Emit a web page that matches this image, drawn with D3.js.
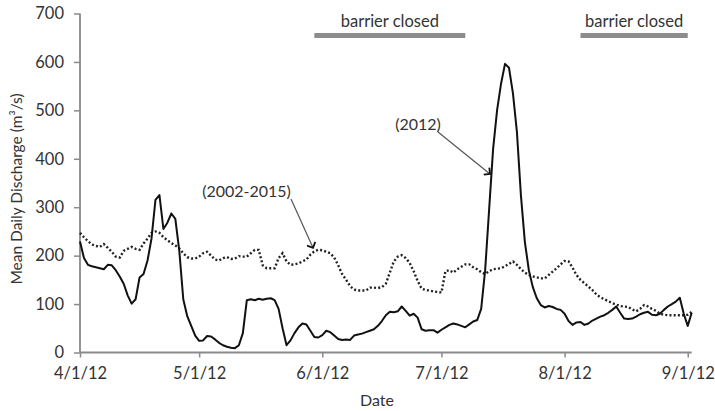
<!DOCTYPE html>
<html>
<head>
<meta charset="utf-8">
<script src="https://cdn.jsdelivr.net/npm/d3@7"></script>
<style>
  body { margin: 0; background: #fff; }
  text { font-family: Lato, "Open Sans", sans-serif; fill: #333; }
</style>
</head>
<body>
<svg id="chart" width="715" height="411"></svg>
<script>
// ---- data (daily, starting 4/1/2012) ----
const startDate = "2012-04-01";
const endDate = "2012-09-02";
const flow2012 = [
  229,195,181,178,176,174,172,181,180,170,
  157,142,118,101,110,155,162,190,235,315,
  325,255,268,287,276,210,110,75,55,35,
  24,25,34,33,27,20,15,12,10,9,
  15,40,108,110,108,111,109,111,112,108,
  90,50,15,25,40,52,60,58,45,32,
  31,36,45,42,35,28,26,27,26,35,
  37,39,42,45,48,55,65,77,84,83,
  85,95,86,76,80,72,48,45,46,46,
  41,47,52,57,60,58,55,52,58,64,
  67,90,170,295,420,500,555,596,588,535,
  455,325,228,170,135,112,98,93,96,94,
  90,88,80,65,57,62,63,57,60,66,
  70,74,77,82,88,95,82,70,69,70,
  74,79,82,84,78,77,80,88,95,100,
  105,113,80,55,82
];
const flowMean = [
  247,238,230,223,220,218,224,216,208,198,
  196,210,214,218,214,212,225,235,247,250,
  247,238,232,226,221,215,205,197,194,194,
  198,205,208,200,192,190,195,197,193,194,
  199,198,198,205,212,212,180,174,174,174,
  195,205,188,181,182,184,188,192,202,209,
  212,211,208,205,196,180,162,150,137,130,
  128,128,128,134,134,133,135,142,165,188,
  198,201,195,185,168,148,132,129,128,126,
  125,124,168,170,165,172,177,182,182,176,
  172,166,162,168,172,173,174,178,183,188,
  181,172,165,160,157,155,153,153,160,167,
  174,182,189,188,175,160,150,143,136,129,
  120,114,110,106,102,99,96,95,94,89,
  85,90,98,95,90,86,80,78,77,77,
  77,77,77,78,84
];
const yTicks = [0,100,200,300,400,500,600,700];
const xTickDates = ["2012-04-01","2012-05-01","2012-06-01","2012-07-01","2012-08-01","2012-09-01"];
const barrierPeriods = [["2012-05-30","2012-07-07"],["2012-08-05","2012-09-01"]];
const barrierLabel = "barrier closed";
const seriesLabels = ["(2002-2015)", "(2012)"];

// ---- layout ----
const svg = d3.select("#chart");
const W = 715, H = 411;
const margin = {left: 80, right: W - 691.7, top: 13.5, bottom: H - 352.5};
const parse = d3.timeParse("%Y-%m-%d");
const t0 = parse(startDate);

const x = d3.scaleTime().domain([t0, parse(endDate)]).range([margin.left, W - margin.right]);
const y = d3.scaleLinear().domain([0, 700]).range([H - margin.bottom, margin.top]);

const axisColor = "#8a8a8a";
const font = "Lato, 'Open Sans', sans-serif";

// axes
const xAxis = svg.append("g").attr("transform", `translate(0,${y(0)})`)
  .call(d3.axisBottom(x).tickValues(xTickDates.map(parse)).tickSize(5).tickPadding(10)
    .tickFormat(d3.timeFormat("%-m/%-d/%y")));
const yAxis = svg.append("g").attr("transform", `translate(${margin.left},0)`)
  .call(d3.axisLeft(y).tickValues(yTicks).tickSize(6).tickPadding(10));
[xAxis, yAxis].forEach(g => {
  g.select(".domain").attr("stroke", axisColor).attr("stroke-width", 1.8);
  g.selectAll(".tick line").attr("stroke", axisColor).attr("stroke-width", 1.5);
  g.selectAll(".tick text").attr("font-size", 16.5).attr("fill", "#333")
    .attr("font-family", font);
});
xAxis.select(".domain").attr("d", `M${x.range()[0]},0H${x.range()[1]}`);
yAxis.select(".domain").attr("d", `M0,${y.range()[0]}V${y.range()[1]}`);

// axis titles
svg.append("text").attr("x", 377).attr("y", 406).attr("text-anchor", "middle")
  .attr("font-size", 16).text("Date");
svg.append("text").attr("transform", `translate(22,${189}) rotate(-90)`)
  .attr("text-anchor", "middle").attr("font-size", 15.5).text("Mean Daily Discharge (m³/s)");

// lines
const dates = flow2012.map((_, i) => d3.timeDay.offset(t0, i));
const line = d3.line().x((d, i) => x(dates[i])).y(d => y(d));

svg.append("path").datum(flowMean).attr("d", line)
  .attr("fill", "none").attr("stroke", "#222").attr("stroke-width", 2.4)
  .attr("stroke-dasharray", "2,2.2");
svg.append("path").datum(flow2012).attr("d", line)
  .attr("fill", "none").attr("stroke", "#111").attr("stroke-width", 2)
  .attr("stroke-linejoin", "round");

// barrier bars
barrierPeriods.forEach(p => {
  const x0 = x(parse(p[0])), x1 = x(parse(p[1]));
  svg.append("rect").attr("x", x0).attr("y", 33).attr("width", x1 - x0).attr("height", 5)
    .attr("fill", "#8c8c8c");
  svg.append("text").attr("x", (x0 + x1) / 2).attr("y", 27).attr("text-anchor", "middle")
    .attr("font-size", 16.5).text(barrierLabel);
});

// annotations
const defs = svg.append("defs");
defs.append("marker").attr("id", "ah").attr("viewBox", "0 0 10 10")
  .attr("refX", 9).attr("refY", 5).attr("markerWidth", 10).attr("markerHeight", 10)
  .attr("markerUnits", "userSpaceOnUse").attr("orient", "auto")
  .append("path").attr("d", "M4.5,0.5 L9,5 L4.5,9.5").attr("fill", "none")
  .attr("stroke", "#111").attr("stroke-width", 1.8);

svg.append("text").attr("x", 246.5).attr("y", 197).attr("text-anchor", "middle")
  .attr("font-size", 16).text(seriesLabels[0]);
svg.append("line").attr("x1", 291).attr("y1", 199).attr("x2", 313)
  .attr("y2", y(flowMean[60]) - 2).attr("stroke", "#555").attr("stroke-width", 1.2)
  .attr("marker-end", "url(#ah)");

svg.append("text").attr("x", 418).attr("y", 130).attr("text-anchor", "middle")
  .attr("font-size", 16).text(seriesLabels[1]);
svg.append("line").attr("x1", 438).attr("y1", 132).attr("x2", 490)
  .attr("y2", 174).attr("stroke", "#555").attr("stroke-width", 1.2)
  .attr("marker-end", "url(#ah)");
</script>
</body>
</html>
